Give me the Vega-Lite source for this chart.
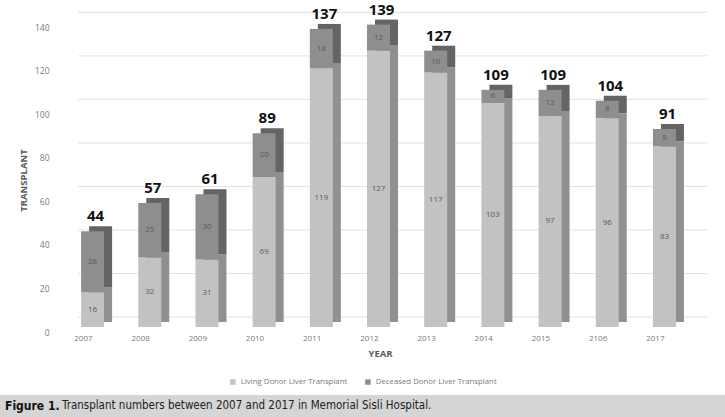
{
  "$schema": "https://vega.github.io/schema/vega-lite/v6.json",
  "background": "white",
  "padding": 0,
  "bounds": "flush",
  "spacing": 68,
  "config": {"view": {"stroke": null}, "font": "Open Sans"},
  "datasets": {
    "tx": [
      {"year": "2007", "type": "Living Donor Liver Transplant", "k": 1, "n": 16},
      {"year": "2007", "type": "Deceased Donor Liver Transplant", "k": 2, "n": 28},
      {"year": "2008", "type": "Living Donor Liver Transplant", "k": 1, "n": 32},
      {"year": "2008", "type": "Deceased Donor Liver Transplant", "k": 2, "n": 25},
      {"year": "2009", "type": "Living Donor Liver Transplant", "k": 1, "n": 31},
      {"year": "2009", "type": "Deceased Donor Liver Transplant", "k": 2, "n": 30},
      {"year": "2010", "type": "Living Donor Liver Transplant", "k": 1, "n": 69},
      {"year": "2010", "type": "Deceased Donor Liver Transplant", "k": 2, "n": 20},
      {"year": "2011", "type": "Living Donor Liver Transplant", "k": 1, "n": 119},
      {"year": "2011", "type": "Deceased Donor Liver Transplant", "k": 2, "n": 18},
      {"year": "2012", "type": "Living Donor Liver Transplant", "k": 1, "n": 127},
      {"year": "2012", "type": "Deceased Donor Liver Transplant", "k": 2, "n": 12},
      {"year": "2013", "type": "Living Donor Liver Transplant", "k": 1, "n": 117},
      {"year": "2013", "type": "Deceased Donor Liver Transplant", "k": 2, "n": 10},
      {"year": "2014", "type": "Living Donor Liver Transplant", "k": 1, "n": 103},
      {"year": "2014", "type": "Deceased Donor Liver Transplant", "k": 2, "n": 6},
      {"year": "2015", "type": "Living Donor Liver Transplant", "k": 1, "n": 97},
      {"year": "2015", "type": "Deceased Donor Liver Transplant", "k": 2, "n": 12},
      {"year": "2106", "type": "Living Donor Liver Transplant", "k": 1, "n": 96},
      {"year": "2106", "type": "Deceased Donor Liver Transplant", "k": 2, "n": 8},
      {"year": "2017", "type": "Living Donor Liver Transplant", "k": 1, "n": 83},
      {"year": "2017", "type": "Deceased Donor Liver Transplant", "k": 2, "n": 8}
    ],
    "grid": [{"v": 0}, {"v": 20}, {"v": 40}, {"v": 60}, {"v": 80}, {"v": 100}, {"v": 120}, {"v": 140}]
  },
  "vconcat": [
    {
      "width": 725,
      "height": 327,
      "data": {"name": "tx"},
      "layer": [
        {
          "data": {"name": "grid"},
          "mark": {"type": "rule", "color": "#e2e2e2", "strokeWidth": 1, "yOffset": -10, "xOffset": 14, "x2Offset": 14},
          "encoding": {
            "x": {"datum": "2007", "bandPosition": 0, "type": "nominal"},
            "x2": {"datum": "2017", "bandPosition": 1},
            "y": {"field": "v", "type": "quantitative", "title": "TRANSPLANT", "scale": {"domain": [0, 150.3], "nice": false, "zero": true}}
          }
        },
        {
          "mark": {"type": "bar", "width": 23, "xOffset": 8, "yOffset": -5},
          "encoding": {
            "x": {"field": "year", "type": "nominal", "title": "YEAR",
              "sort": ["2007", "2008", "2009", "2010", "2011", "2012", "2013", "2014", "2015", "2106", "2017"],
              "scale": {"paddingInner": 0, "paddingOuter": 0.839, "align": 0.667}},
            "y": {"field": "n", "type": "quantitative", "title": "TRANSPLANT"},
            "color": {"field": "type", "type": "nominal", "legend": null,
              "scale": {"domain": ["Living Donor Liver Transplant", "Deceased Donor Liver Transplant"], "range": ["#909090", "#646464"]}},
            "order": {"field": "k", "type": "quantitative"}
          }
        },
        {
          "mark": {"type": "bar", "width": 23},
          "encoding": {
            "x": {"field": "year", "type": "nominal", "title": "YEAR",
              "sort": ["2007", "2008", "2009", "2010", "2011", "2012", "2013", "2014", "2015", "2106", "2017"],
              "axis": {"labelAngle": 0, "labelColor": "#7a7a7a", "labelFontSize": 8, "labelPadding": 11, "ticks": false, "domain": false,
                "titleColor": "#595959", "titleFontSize": 9.5, "titleFontWeight": "bold", "titlePadding": 6, "titleX": 380}},
            "y": {"field": "n", "type": "quantitative", "title": "TRANSPLANT",
              "axis": {"values": [0, 20, 40, 60, 80, 100, 120, 140], "grid": false, "ticks": false, "domain": false, "offset": -64,
                "labelColor": "#7a7a7a", "labelFontSize": 8.5, "labelPadding": 15, "labelOffset": 5,
                "titleColor": "#595959", "titleFontSize": 9.5, "titleFontWeight": "bold", "titleX": -36, "titleY": 180}},
            "color": {"field": "type", "type": "nominal", "title": null,
              "scale": {"domain": ["Living Donor Liver Transplant", "Deceased Donor Liver Transplant"], "range": ["#c2c2c2", "#8e8e8e"]},
              "legend": {"orient": "none", "direction": "horizontal", "legendX": 229, "legendY": 378, "symbolType": "square", "symbolSize": 30,
                "labelColor": "#7a7a7a", "labelFontSize": 7.8, "columnPadding": 16, "symbolStrokeWidth": 0}},
            "order": {"field": "k", "type": "quantitative"}
          }
        },
        {
          "transform": [
            {"stack": "n", "groupby": ["year"], "sort": [{"field": "k", "order": "ascending"}], "as": ["y0", "y1"]},
            {"fold": ["y0", "y1"], "as": ["edge", "pos"]},
            {"aggregate": [{"op": "mean", "field": "pos", "as": "mid"}], "groupby": ["year", "type", "n"]}
          ],
          "mark": {"type": "text", "fontSize": 8, "color": "#5a5a5a", "baseline": "middle"},
          "encoding": {
            "x": {"field": "year", "type": "nominal", "title": "YEAR",
              "sort": ["2007", "2008", "2009", "2010", "2011", "2012", "2013", "2014", "2015", "2106", "2017"]},
            "y": {"field": "mid", "type": "quantitative", "title": "TRANSPLANT"},
            "text": {"field": "n", "type": "quantitative"}
          }
        },
        {
          "mark": {"type": "text", "fontSize": 15, "fontWeight": "bold", "color": "#111111", "baseline": "alphabetic", "dy": -10, "dx": 3},
          "encoding": {
            "x": {"field": "year", "type": "nominal", "title": "YEAR",
              "sort": ["2007", "2008", "2009", "2010", "2011", "2012", "2013", "2014", "2015", "2106", "2017"]},
            "y": {"aggregate": "sum", "field": "n", "type": "quantitative", "title": "TRANSPLANT"},
            "text": {"aggregate": "sum", "field": "n", "type": "quantitative"}
          }
        }
      ],
      "resolve": {"scale": {"color": "independent"}}
    },
    {
      "width": 725,
      "height": 22,
      "view": {"fill": "#d5d5d5", "stroke": null},
      "data": {"values": [{}]},
      "layer": [
        {"mark": {"type": "text", "text": "Figure 1.", "x": 5, "y": 11, "align": "left", "baseline": "middle",
          "font": "DejaVu Sans Condensed", "fontSize": 12, "fontWeight": "bold", "color": "#111111"}, "encoding": {}},
        {"mark": {"type": "text", "text": "Transplant numbers between 2007 and 2017  in Memorial Sisli Hospital.", "x": 62, "y": 11, "align": "left", "baseline": "middle",
          "font": "DejaVu Sans Condensed", "fontSize": 11.5, "color": "#222222"}, "encoding": {}}
      ]
    }
  ]
}
